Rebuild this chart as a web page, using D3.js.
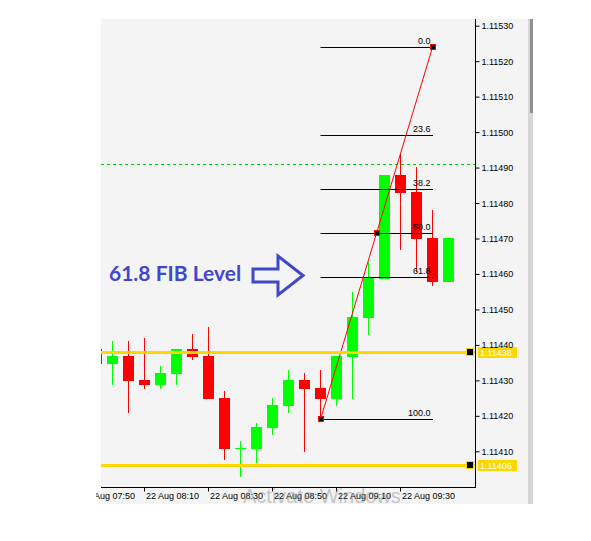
<!DOCTYPE html>
<html>
<head>
<meta charset="utf-8">
<script src="https://cdn.jsdelivr.net/npm/d3@7"></script>
<style>
  html, body { margin: 0; padding: 0; background: #ffffff; }
  svg { display: block; }
</style>
</head>
<body>
<svg id="chart" width="591" height="541"></svg>
<script>
// ---------------- DATA ----------------
const times  = ["07:55","08:00","08:05","08:10","08:15","08:20","08:25","08:30","08:35","08:40","08:45","08:50",
                "08:55","09:00","09:05","09:10","09:15","09:20","09:25","09:30","09:35","09:40","09:45"];
const opens  = [1.114388,1.114347,1.114369,1.114301,1.114287,1.114318,1.114388,1.114369,1.114250,1.114109,1.114107,1.114166,
                1.114228,1.114301,1.114279,1.114247,1.114367,1.114477,1.114586,1.114879,1.114832,1.114702,1.114578];
const highs  = [1.114410,1.114411,1.114411,1.114420,1.114341,1.114388,1.114431,1.114450,1.114270,1.114129,1.114180,1.114250,
                1.114329,1.114321,1.114329,1.114370,1.114550,1.114635,1.114879,1.114942,1.114902,1.114780,1.114702];
const lows   = [1.114330,1.114287,1.114209,1.114276,1.114276,1.114287,1.114357,1.114247,1.114076,1.114028,1.114067,1.114146,
                1.114208,1.114098,1.114188,1.114229,1.114247,1.114428,1.114586,1.114668,1.114606,1.114567,1.114578];
const closes = [1.114347,1.114369,1.114298,1.114287,1.114321,1.114388,1.114366,1.114247,1.114107,1.114109,1.114169,1.114231,
                1.114301,1.114276,1.114247,1.114370,1.114480,1.114591,1.114879,1.114829,1.114699,1.114578,1.114702];

const yTicks = [1.11530,1.11520,1.11510,1.11500,1.11490,1.11480,1.11470,1.11460,1.11450,1.11440,1.11430,1.11420,1.11410];
const xTickTimes = ["07:50","08:10","08:30","08:50","09:10","09:30"];
const xTickDate = "22 Aug";

const supportLevels = [1.11438, 1.11406];
const askLine = 1.114909;

const fibLevels = [0, 23.6, 38.2, 50, 61.8, 100];
const fibLabels = ["0.0","23.6","38.2","50.0","61.8","100.0"];
const fibLow  = {time: "09:05", price: 1.114190};
const fibHigh = {time: "09:40", price: 1.115239};

const annotationText = "61.8 FIB Level";
const watermarkText = "Activate Windows";

// ---------------- LAYOUT ----------------
const svg = d3.select("#chart");
const plot = {left: 101, top: 19, right: 475, bottom: 487};
const bgArea = {left: 101, top: 19, right: 529, bottom: 504};

const toMin = s => { const [h, m] = s.split(":").map(Number); return h * 60 + m; };

const x = d3.scaleLinear().domain([toMin("07:55"), toMin("09:45")]).range([96.5, 448.5]);
const y = d3.scaleLinear().domain([1.11410, 1.11530]).range([451.3, 25.7]);

const candles = times.map((t, i) => ({t, o: opens[i], h: highs[i], l: lows[i], c: closes[i]}));

const UP = "#00ff00", DOWN = "#ff0000", FG = "#000000";
const fontAxis = "'Liberation Sans', Arial, sans-serif";

// defs / clips
const defs = svg.append("defs");
defs.append("clipPath").attr("id", "plotClip").append("rect")
  .attr("x", plot.left).attr("y", plot.top).attr("width", plot.right - plot.left).attr("height", plot.bottom - plot.top);
defs.append("clipPath").attr("id", "bgClip").append("rect")
  .attr("x", 96).attr("y", bgArea.top).attr("width", bgArea.right - 96).attr("height", bgArea.bottom - bgArea.top);

// background
svg.append("rect").attr("x", bgArea.left).attr("y", bgArea.top)
  .attr("width", bgArea.right - bgArea.left).attr("height", bgArea.bottom - bgArea.top).attr("fill", "#f4f4f4");

// scrollbar
svg.append("rect").attr("x", 528).attr("y", bgArea.top).attr("width", 5).attr("height", bgArea.bottom - bgArea.top).attr("fill", "#d6d6d6");
svg.append("rect").attr("x", 530).attr("y", bgArea.top).attr("width", 3).attr("height", 94).attr("fill", "#909090");

const gPlot = svg.append("g").attr("clip-path", "url(#plotClip)");

// ask dashed line
gPlot.append("line")
  .attr("x1", plot.left).attr("x2", plot.right)
  .attr("y1", Math.round(y(askLine)) + 0.5).attr("y2", Math.round(y(askLine)) + 0.5)
  .attr("stroke", "#00cc00").attr("stroke-width", 1).attr("stroke-dasharray", "3,3");

// candles
const gC = gPlot.append("g");
const colorOf = d => d.c < d.o ? DOWN : UP;
gC.selectAll("line.wick").data(candles).join("line").attr("class", "wick")
  .attr("x1", d => x(toMin(d.t))).attr("x2", d => x(toMin(d.t)))
  .attr("y1", d => Math.round(y(d.h))).attr("y2", d => Math.round(y(d.l)))
  .attr("stroke", colorOf).attr("stroke-width", 1);
gC.selectAll("rect.body").data(candles.filter(d => d.o !== d.c)).join("rect").attr("class", "body")
  .attr("x", d => x(toMin(d.t)) - 5.5)
  .attr("width", 11)
  .attr("y", d => Math.round(y(Math.max(d.o, d.c))))
  .attr("height", d => Math.max(1, Math.round(y(Math.min(d.o, d.c))) - Math.round(y(Math.max(d.o, d.c)))))
  .attr("fill", colorOf);
gC.selectAll("line.doji").data(candles.filter(d => d.o === d.c)).join("line").attr("class", "doji")
  .attr("x1", d => x(toMin(d.t)) - 5.5).attr("x2", d => x(toMin(d.t)) + 5.5)
  .attr("y1", d => Math.round(y(d.o)) + 0.5).attr("y2", d => Math.round(y(d.o)) + 0.5)
  .attr("stroke", UP).attr("stroke-width", 1);

// Fibonacci
const fx1 = x(toMin(fibLow.time)), fx2 = x(toMin(fibHigh.time));
const fibPrice = lv => fibHigh.price - lv / 100 * (fibHigh.price - fibLow.price);
const gF = svg.append("g");
gF.selectAll("line.fib").data(fibLevels).join("line").attr("class", "fib")
  .attr("x1", fx1).attr("x2", fx2 + 0.5)
  .attr("y1", d => Math.round(y(fibPrice(d))) + 0.5).attr("y2", d => Math.round(y(fibPrice(d))) + 0.5)
  .attr("stroke", FG).attr("stroke-width", 1);
gF.selectAll("text.fib").data(fibLevels).join("text").attr("class", "fib")
  .attr("x", fx2 - 2).attr("y", d => Math.round(y(fibPrice(d))) - 3)
  .attr("text-anchor", "end").attr("font-family", fontAxis).attr("font-size", 9).attr("fill", FG)
  .text((d, i) => fibLabels[i]);
gF.append("line")
  .attr("x1", fx1).attr("y1", y(fibLow.price)).attr("x2", fx2).attr("y2", y(fibHigh.price))
  .attr("stroke", DOWN).attr("stroke-width", 1);
const markers = [
  {t: fx1, p: fibLow.price},
  {t: (fx1 + fx2) / 2, p: fibPrice(50)},
  {t: fx2, p: fibHigh.price}
];
gF.selectAll("rect.mk").data(markers).join("rect").attr("class", "mk")
  .attr("x", d => Math.round(d.t) - 2.5).attr("y", d => Math.round(y(d.p)) - 2.5)
  .attr("width", 5).attr("height", 5)
  .attr("fill", "#000").attr("stroke", DOWN).attr("stroke-width", 1);

// support lines
const gS = svg.append("g");
gS.selectAll("line.sup").data(supportLevels).join("line").attr("class", "sup")
  .attr("x1", plot.left).attr("x2", plot.right)
  .attr("y1", d => Math.round(y(d)) + 0.5).attr("y2", d => Math.round(y(d)) + 0.5)
  .attr("stroke", "#ffd700").attr("stroke-width", 3);

// borders
svg.append("line").attr("x1", plot.right + 0.5).attr("x2", plot.right + 0.5).attr("y1", plot.top).attr("y2", plot.bottom + 0.5)
  .attr("stroke", FG);
svg.append("line").attr("x1", plot.left).attr("x2", plot.right + 1).attr("y1", plot.bottom + 0.5).attr("y2", plot.bottom + 0.5)
  .attr("stroke", FG);

// y axis
const yAxis = d3.axisRight(y).tickValues(yTicks).tickSize(4).tickPadding(2).tickFormat(d3.format(".5f"));
const gY = svg.append("g").attr("transform", `translate(${plot.right + 0.5},0)`).call(yAxis);
gY.select(".domain").remove();
gY.selectAll("text").attr("font-family", fontAxis).attr("font-size", 9).attr("fill", FG).attr("dy", "0.33em");
gY.selectAll("line").attr("stroke", FG);

// support markers & price tags
gS.selectAll("rect.sq").data(supportLevels).join("rect").attr("class", "sq")
  .attr("x", 466.5).attr("y", d => Math.round(y(d)) - 3.5).attr("width", 7).attr("height", 7)
  .attr("fill", "#000").attr("stroke", "#ffd700").attr("stroke-width", 1);
gS.selectAll("rect.tag").data(supportLevels).join("rect").attr("class", "tag")
  .attr("x", 478).attr("y", d => Math.round(y(d)) - 5).attr("width", 39).attr("height", 11)
  .attr("fill", "#ffd700");
gS.selectAll("text.tag").data(supportLevels).join("text").attr("class", "tag")
  .attr("x", 480).attr("y", d => Math.round(y(d)) + 4)
  .attr("font-family", fontAxis).attr("font-size", 9).attr("fill", "#ffffff")
  .text(d => d3.format(".5f")(d));

// x axis
const xAxis = d3.axisBottom(x).tickValues(xTickTimes.map(toMin)).tickSize(4).tickSizeOuter(0)
  .tickFormat((d, i) => `${xTickDate} ${xTickTimes[i]}`);
const gXWrap = svg.append("g").attr("clip-path", "url(#bgClip)");
const gX = gXWrap.append("g").attr("transform", `translate(0,${plot.bottom + 0.5})`).call(xAxis);
gX.select(".domain").remove();
gX.selectAll(".tick line").attr("stroke", FG).attr("transform", "translate(-0.5,0)");
gX.selectAll("text").attr("font-family", fontAxis).attr("font-size", 9).attr("fill", FG)
  .attr("text-anchor", "start").attr("dx", 1).attr("y", 9).attr("dy", "0.33em");

// annotation
const blue = "#3f48cc";
svg.append("text").attr("x", 109).attr("y", 281)
  .attr("font-family", "Lato, 'Open Sans', sans-serif").attr("font-weight", "bold").attr("font-size", 21)
  .attr("fill", blue).text(annotationText);
svg.append("path")
  .attr("d", "M253,269 L278,269 L278,256 L303,275.5 L278,295 L278,282 L253,282 Z")
  .attr("fill", "none").attr("stroke", blue).attr("stroke-width", 3).attr("stroke-linejoin", "miter");

// watermark (faint, clipped to the chart window like the reference)
svg.append("g").attr("clip-path", "url(#bgClip)").append("text")
  .attr("x", 243).attr("y", 502.5)
  .attr("font-family", fontAxis).attr("font-size", 20)
  .attr("fill", "#888888").attr("fill-opacity", 0.45).text(watermarkText);
</script>
</body>
</html>
